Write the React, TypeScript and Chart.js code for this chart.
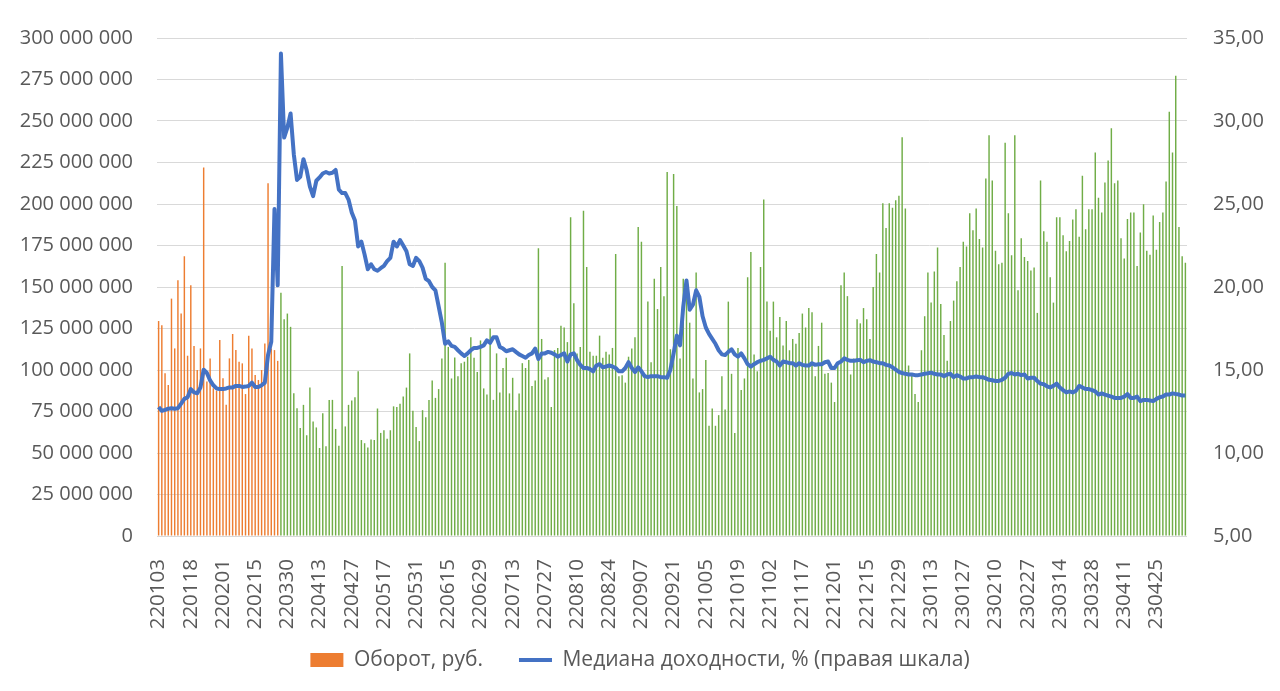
import React, { useEffect, useRef } from 'react';
import { Chart, registerables } from 'chart.js';

Chart.register(...registerables);

// X-axis tick labels (one every 10 trading days)
const TICK_LABELS = [
  '220103', '220118', '220201', '220215', '220330', '220413', '220427', '220517',
  '220531', '220615', '220629', '220713', '220727', '220810', '220824', '220907',
  '220921', '221005', '221019', '221102', '221117', '221201', '221215', '221229',
  '230113', '230127', '230210', '230227', '230314', '230328', '230411', '230425',
];
const LABEL_EVERY = 10;

// Daily turnover, million RUB (one value per trading day)
const TURNOVER_MLN_RUB = [
  129.5, 127, 98, 91, 143, 113, 154, 134, 168.5, 108.6, 151, 114.5, 100, 113, 222, 93, 107, 89, 87.5, 118,
  95, 79, 107, 121.7, 112, 105, 104, 85.5, 120.7, 113, 97, 94, 100, 116, 212.5, 113, 112, 105.5, 146.5, 130.5,
  134, 126, 86, 77, 65, 79, 60.7, 89.5, 69, 65.4, 53, 74, 54,
  82, 82, 64.5, 54.3, 162.7, 66, 79, 81.6, 83.6, 99.2, 57.8, 55.9, 53.3, 58.2, 57.8, 76.8, 62.1, 63.7, 58.6, 63.7,
  78.1, 77.7, 79.7, 84, 89.4, 110, 75.4, 65.6, 57.2, 75.8, 71.5, 82, 93.7, 83.2, 88.5, 107, 164.6, 113.9, 94.9, 107.6,
  96.3, 104, 105, 108, 119.7, 107.4, 98.8, 117.8, 88.9, 85.2, 125, 82, 110, 86.5,
  101.2, 107.4, 85.9, 95.3, 75.8, 85.9, 104.1, 101.2, 106, 90.4, 93.7, 173.4, 118.7, 94.3, 95.7, 77.7, 112, 113.3,
  126.6, 125.6, 116.8, 192, 140.2, 110, 113.9, 195.9, 162.1, 111, 108.6, 108.6, 120.7, 107.4, 111, 109.4, 113.3,
  169.9, 96.3, 96.9, 92.4, 108, 112.9, 119.7, 186.1, 177.3, 97.3, 141.2, 104.7, 154.9, 136.7, 162.1, 144.5, 219.3, 112.5,
  218, 198.8, 107, 154.9, 153.9, 128.5, 94.9, 158.8, 86.5, 88.5, 106, 66.4, 76.8, 66.4, 72.8, 96.3, 76.2, 141.2,
  97.7, 62.1, 113.3, 87.9, 94.9, 155.8, 171.1, 109.4, 99.2, 162.1, 202.7, 141.2, 123.6, 141.2, 119.7, 132, 114.8,
  129.5, 111.9, 118.7, 115.8, 122.3, 134, 125.6, 137.3, 134.8, 96.3, 114.5, 128.5, 97.7, 98.2, 92.4, 80.7, 102.7,
  151, 158.8, 144.5, 97.3, 107, 130.5, 128.1, 137.3, 130.5, 118.7, 150, 169.9, 158.8, 200.4, 185.5, 200.4, 197.8,
  202.3, 205, 240.2, 197.3, 102.7, 98.2, 85.5, 80.7, 111.9, 132.4, 158.8, 140.6, 159.4, 173.8, 139.8, 121.1, 105.5,
  129.5, 141.8, 153.5, 162.1, 177.3, 174.4, 194.5, 184.2, 197.3, 178.9, 173.8, 215.4, 241.4, 214.1, 171.9, 163.7,
  164.6, 236.9,
  194.5, 169.1, 241.4, 148, 179.3, 168, 165.6, 160, 161.7, 134.4, 214.1, 183.6, 177.3, 155.9, 140.6, 192, 192,
  181.2, 171.5, 177.7, 190.6, 196.9, 180.3, 217, 184.8, 196.9, 196.9, 231, 203.7, 194.9, 212.9, 226.2, 245.7,
  212.5, 214.1, 179.3, 167.2, 191, 194.9, 194.9, 162.7, 182.8, 199.8, 171.9, 169.5, 193, 172.5, 189.1, 194.9,
  213.5, 255.5, 231, 277.3, 186.1, 168.5, 164.6,
];

// Median yield, % (right axis)
const MEDIAN_YIELD_PCT = [
  12.77, 12.54, 12.6, 12.67, 12.7, 12.67, 12.7, 12.97, 13.26, 13.36, 13.85, 13.65, 13.6, 13.95, 15.02, 14.82, 14.37,
  14.08, 13.89, 13.85, 13.85, 13.89, 13.95, 13.95, 14.04, 14.04, 13.98, 14.0, 14.04, 14.24, 13.98, 13.98, 14.08,
  14.24, 15.9, 16.7, 24.7, 20.1, 34.06, 29.0, 29.6, 30.45, 28.0, 26.45, 26.64, 27.7, 27.03, 26.05, 25.47, 26.4,
  26.6, 26.84, 26.93,
  26.84, 26.88, 27.05, 25.86, 25.66, 25.66, 25.27, 24.49, 24.0, 22.44, 22.73, 21.95, 21.07, 21.37, 21.07, 20.98,
  21.13, 21.27, 21.56, 21.76, 22.73, 22.44, 22.83, 22.5, 22.15, 21.37, 21.27, 21.76, 21.56, 21.17, 20.49, 20.35,
  20.0, 19.8, 18.83, 17.85, 16.58, 16.72, 16.45, 16.39, 16.19, 16.0, 15.84, 16.0, 16.19, 16.33, 16.33, 16.39,
  16.48, 16.78, 16.64, 16.97, 16.97, 16.39,
  16.29, 16.13, 16.19, 16.25, 16.09, 15.94, 15.84, 15.74, 15.9, 16.0, 16.29, 15.66, 16.0, 16.0, 16.09, 16.04,
  15.94, 15.8, 15.9, 16.0, 15.51, 15.94, 16.0, 15.6, 15.31, 15.12, 15.12, 15.06, 14.92, 15.27, 15.35, 15.16,
  15.21, 15.27, 15.21, 15.12, 14.92, 14.92, 15.12, 15.47, 15.12, 14.88, 15.16, 14.92, 14.63, 14.57, 14.63, 14.63,
  14.63, 14.57, 14.57, 14.53, 15.02,
  16.0, 17.07, 16.48, 18.83, 20.39, 18.63, 18.93, 19.8, 19.41, 18.24, 17.56, 17.17, 16.88, 16.58, 16.19, 15.94,
  15.9, 16.09, 16.25, 15.94, 15.8, 16.0, 15.7, 15.35, 15.21, 15.35, 15.47, 15.55, 15.61, 15.7, 15.8, 15.61, 15.51,
  15.27, 15.51, 15.47, 15.41, 15.41, 15.27, 15.41, 15.31, 15.27, 15.27, 15.41, 15.31, 15.35, 15.35, 15.47, 15.51,
  15.12, 15.12, 15.41,
  15.51, 15.7, 15.61, 15.55, 15.55, 15.59, 15.61, 15.47, 15.55, 15.59, 15.51, 15.47, 15.41, 15.41, 15.31, 15.27,
  15.16, 15.02, 14.88, 14.82, 14.77, 14.73, 14.73, 14.69, 14.69, 14.73, 14.77, 14.8, 14.84, 14.77, 14.73, 14.73,
  14.63, 14.73, 14.77, 14.57, 14.69, 14.61, 14.49, 14.49, 14.57, 14.57, 14.61, 14.57, 14.57, 14.49, 14.41, 14.38,
  14.34, 14.34, 14.41, 14.53,
  14.77, 14.82, 14.73, 14.77, 14.69, 14.73, 14.49, 14.53, 14.53, 14.34, 14.18, 14.14, 14.02, 13.95, 14.04, 14.18,
  13.95, 13.79, 13.65, 13.71, 13.65, 13.75, 14.04, 13.95, 13.85, 13.85, 13.79, 13.71, 13.52, 13.59, 13.52, 13.46,
  13.4, 13.32, 13.32, 13.32, 13.4, 13.55, 13.32, 13.32, 13.4, 13.13, 13.2, 13.2, 13.16, 13.13, 13.26, 13.36, 13.4,
  13.52, 13.52, 13.59, 13.55, 13.52, 13.46, 13.46,
];

// Number of trading days before the market suspension (orange bars)
const PRE_SUSPENSION_DAYS = 38;

const ORANGE = '#ED7D31';
const GREEN = '#70AD47';
const BLUE = '#4472C4';
const TEXT = '#595959';
const GRID = '#D9D9D9';
const FONT = "'Open Sans', 'Noto Sans', sans-serif";

const fmtThousands = (v: number) => String(Math.round(v)).replace(/\B(?=(\d{3})+(?!\d))/g, ' ');

export default function App() {
  const ref = useRef<HTMLCanvasElement>(null);

  useEffect(() => {
    const canvas = ref.current;
    if (!canvas) return;
    const labels = TURNOVER_MLN_RUB.map((_, i) =>
      i % LABEL_EVERY === 0 ? TICK_LABELS[i / LABEL_EVERY] ?? '' : ''
    );
    const chart = new Chart(canvas, {
      type: 'bar',
      data: {
        labels,
        datasets: [
          {
            type: 'bar',
            label: 'Оборот, руб.',
            data: TURNOVER_MLN_RUB.map((v) => v * 1e6),
            backgroundColor: TURNOVER_MLN_RUB.map((_, i) => (i < PRE_SUSPENSION_DAYS ? ORANGE : GREEN)),
            borderWidth: 0,
            barPercentage: 0.45,
            categoryPercentage: 1,
            yAxisID: 'y',
            order: 1,
            pointStyle: 'rect',
          } as any,
          {
            type: 'line',
            label: 'Медиана доходности, % (правая шкала)',
            data: MEDIAN_YIELD_PCT,
            borderColor: BLUE,
            backgroundColor: BLUE,
            borderWidth: 4,
            pointRadius: 0,
            pointHoverRadius: 0,
            tension: 0,
            borderJoinStyle: 'round',
            yAxisID: 'y1',
            order: 0,
            pointStyle: 'line',
          } as any,
        ],
      },
      options: {
        responsive: false,
        maintainAspectRatio: false,
        animation: false,
        devicePixelRatio: 1,
        layout: { padding: { top: 24, left: 0, right: 0, bottom: 10.5 } },
        plugins: {
          tooltip: { enabled: false },
          legend: {
            position: 'bottom',
            labels: {
              usePointStyle: true,
              pointStyleWidth: 33,
              boxHeight: 14,
              padding: 36,
              color: TEXT,
              font: { family: FONT, size: 21 },
              sort: (a: any, b: any) => a.datasetIndex - b.datasetIndex,
            },
          },
        },
        scales: {
          x: {
            grid: { display: false, drawTicks: false },
            border: { display: false },
            ticks: {
              autoSkip: false,
              minRotation: 90,
              maxRotation: 90,
              padding: 23,
              color: TEXT,
              font: { family: FONT, size: 20.5 },
            },
            afterFit: (s: any) => {
              s.height = 77.5;
              // let the rotated date labels run past the (short) axis box
              s._computeLabelArea = () => undefined;
            },
          },
          y: {
            position: 'left',
            min: 0,
            max: 300000000,
            grid: { color: GRID, lineWidth: 1, drawTicks: false },
            border: { display: false },
            ticks: {
              stepSize: 25000000,
              padding: 24,
              color: TEXT,
              font: { family: FONT, size: 20 },
              callback: (v: any) => fmtThousands(Number(v)),
            },
            afterFit: (s: any) => {
              s.width = 157;
            },
          },
          y1: {
            position: 'right',
            min: 5,
            max: 35,
            grid: { drawOnChartArea: false, drawTicks: false },
            border: { display: false },
            ticks: {
              stepSize: 5,
              padding: 26,
              color: TEXT,
              font: { family: FONT, size: 20 },
              callback: (v: any) => Number(v).toFixed(2).replace('.', ','),
            },
            afterFit: (s: any) => {
              s.width = 93;
            },
          },
        },
      } as any,
    });
    return () => chart.destroy();
  }, []);

  return (
    <div style={{ position: 'fixed', left: 0, top: 0, width: 1280, height: 691, background: '#ffffff' }}>
      <canvas ref={ref} width={1280} height={691} style={{ display: 'block' }} />
    </div>
  );
}
